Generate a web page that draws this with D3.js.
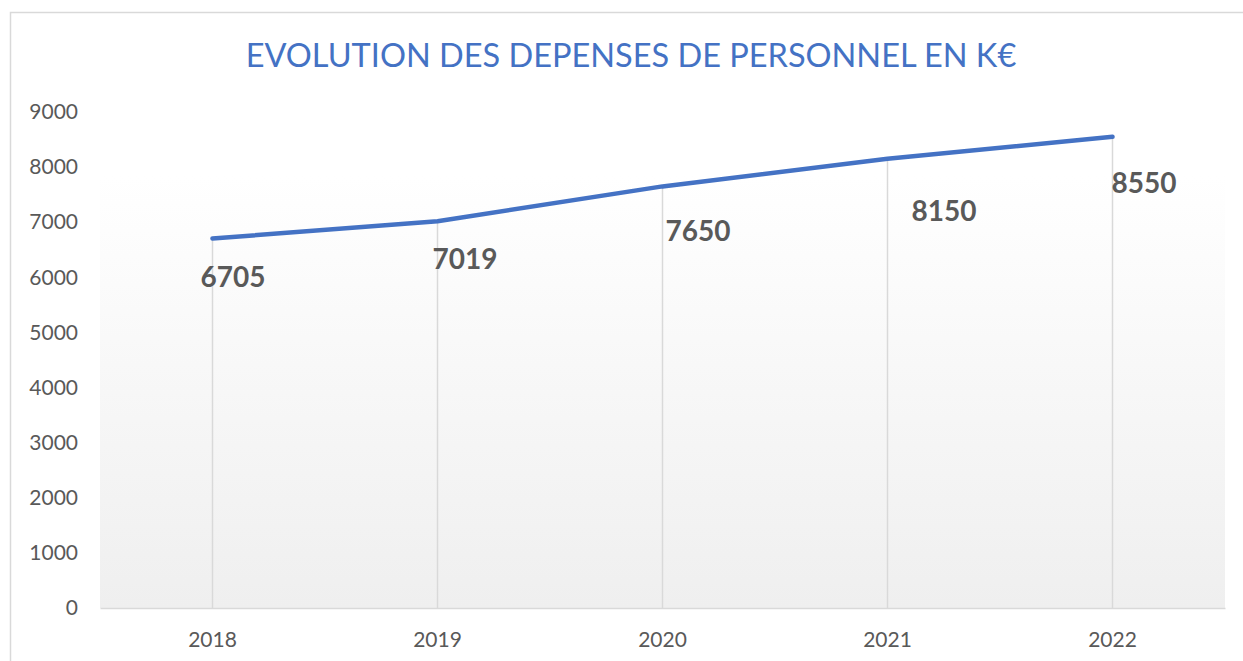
<!DOCTYPE html>
<html>
<head>
<meta charset="utf-8">
<script src="https://cdn.jsdelivr.net/npm/d3@7"></script>
<style>
  body { margin: 0; background: #fff; }
  svg { display: block; font-family: Lato, "Open Sans", sans-serif; }
</style>
</head>
<body>
<svg id="chart" width="1243" height="661"></svg>
<script>
// chart data
const years = ['2018', '2019', '2020', '2021', '2022'];
const spending = [6705, 7019, 7650, 8150, 8550];
const yTicks = [0, 1000, 2000, 3000, 4000, 5000, 6000, 7000, 8000, 9000];
const title = 'EVOLUTION DES DEPENSES DE PERSONNEL EN K€';

// labels were nudged by hand in the original, keep their offsets apart
const labelNudge = [[-12, 39], [-5, 38], [3, 45], [24, 52], [-1, 46]];

const WIDTH = 1243;
const HEIGHT = 661;
const plot = { left: 100, right: 1225, top: 112, bottom: 608, bgTop: 176 };

const svg = d3.select('#chart');

// gradient for the plot area
const defs = svg.append('defs');
const grad = defs.append('linearGradient')
  .attr('id', 'plotBg')
  .attr('x1', 0).attr('y1', 0).attr('x2', 0).attr('y2', 1);
grad.append('stop').attr('offset', '0%').attr('stop-color', '#ffffff');
grad.append('stop').attr('offset', '100%').attr('stop-color', '#efefef');

// outer frame
svg.append('rect')
  .attr('x', 10.5).attr('y', 12.5)
  .attr('width', WIDTH).attr('height', HEIGHT)
  .attr('fill', 'none')
  .attr('stroke', '#d9d9d9')
  .attr('stroke-width', 1.5);

/**
 * Scales
 */
const x = d3.scaleBand()
  .domain(years)
  .range([plot.left, plot.right]);

const y = d3.scaleLinear()
  .domain([0, 9000])
  .range([plot.bottom, plot.top]);

const cx = d => x(d) + x.bandwidth() / 2;

svg.append('rect')
  .attr('x', plot.left)
  .attr('y', plot.bgTop)
  .attr('width', plot.right - plot.left)
  .attr('height', plot.bottom - plot.bgTop)
  .attr('fill', 'url(#plotBg)');

// title
svg.append('text')
  .attr('x', 631)
  .attr('y', 67)
  .attr('text-anchor', 'middle')
  .attr('fill', '#4472c4')
  .style('font-size', '32.5px')
  .text(title);

/**
 * Axes
 */
const yAxis = d3.axisLeft(y)
  .tickValues(yTicks)
  .tickSize(0)
  .tickPadding(22)
  .tickFormat(d3.format('d'));

svg.append('g')
  .attr('transform', `translate(${plot.left}, 0)`)
  .call(yAxis)
  .call(g => g.select('.domain').remove())
  .call(g => g.selectAll('text')
    .attr('fill', '#595959')
    .style('font-size', '21px')
    .style('font-family', 'Lato, sans-serif'));

const xAxis = d3.axisBottom(x)
  .tickSize(0)
  .tickPadding(24);

svg.append('g')
  .attr('transform', `translate(0, ${plot.bottom})`)
  .call(xAxis)
  .call(g => g.select('.domain')
    .attr('stroke', '#d9d9d9')
    .attr('stroke-width', 1.5))
  .call(g => g.selectAll('text')
    .attr('fill', '#595959')
    .style('font-size', '21px')
    .style('font-family', 'Lato, sans-serif'));

/**
 * Drop lines from each point down to the axis
 */
svg.append('g')
  .selectAll('line')
  .data(years)
  .join('line')
  .attr('x1', d => cx(d))
  .attr('x2', d => cx(d))
  .attr('y1', (d, i) => y(spending[i]))
  .attr('y2', plot.bottom)
  .attr('stroke', '#d9d9d9')
  .attr('stroke-width', 1.5);

/**
 * Series line
 */
const line = d3.line()
  .x((d, i) => cx(years[i]))
  .y(d => y(d));

svg.append('path')
  .datum(spending)
  .attr('d', line)
  .attr('fill', 'none')
  .attr('stroke', '#4472c4')
  .attr('stroke-width', 4.5)
  .attr('stroke-linecap', 'round')
  .attr('stroke-linejoin', 'round');

// data labels
svg.append('g')
  .selectAll('text')
  .data(spending)
  .join('text')
  .attr('x', (d, i) => cx(years[i]) + labelNudge[i][0])
  .attr('y', (d, i) => y(d) + labelNudge[i][1])
  .attr('dy', '0.35em')
  .attr('fill', '#595959')
  .style('font-size', '28px')
  .style('font-weight', 'bold')
  .text(d => d);
</script>
</body>
</html>
